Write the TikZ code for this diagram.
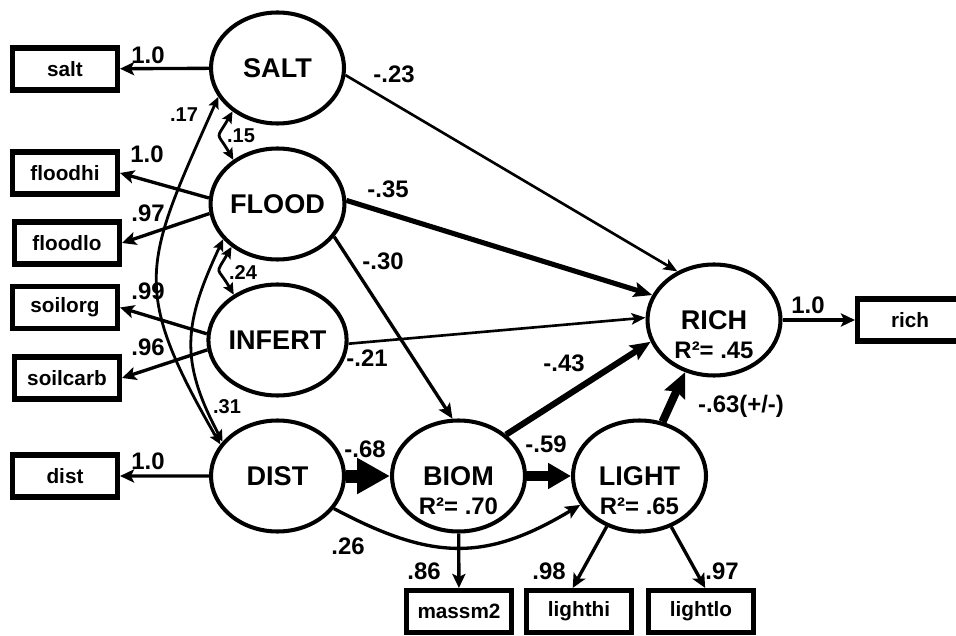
\documentclass[tikz,border=0pt]{standalone}
\usepackage{fontspec}
\setmainfont{Liberation Sans}
\usetikzlibrary{arrows.meta}
\usetikzlibrary{shapes.geometric}
\usetikzlibrary{positioning}

\begin{document}
\begin{tikzpicture}[auto, node distance=2.72cm]

		\tikzstyle{latent} = [ellipse, draw=black, line width=2.3pt, minimum width=2.66cm, minimum height=2.22cm, inner sep=0pt, font=\bfseries\fontsize{15.4}{16}\selectfont]
		\tikzstyle{manifest} = [rectangle, draw=black, line width=2.9pt, minimum width=2.1cm, minimum height=0.84cm, inner sep=0pt, font=\bfseries\fontsize{11.8}{12}\selectfont]
		\tikzstyle{rsq} = [inner sep=0pt, font=\bfseries\fontsize{13.6}{14}\selectfont]
		\tikzstyle{coef} = [inner sep=0pt, font=\bfseries\fontsize{13.6}{14}\selectfont]
		\tikzstyle{coef_small} = [inner sep=0pt, font=\bfseries\fontsize{11.4}{12}\selectfont]
		\tikzstyle{load} = [line width=1.9pt, -{Stealth[length=8pt, width=7.5pt, inset=1.8pt]}]
		\tikzstyle{edge} = [line width=1.5pt, -{Stealth[length=8pt, width=6.5pt, inset=1.8pt]}]
		\tikzstyle{edge_mid} = [line width=1.9pt, -{Stealth[length=8.5pt, width=7.5pt, inset=1.8pt]}]
		\tikzstyle{corr} = [line width=1.6pt, {Stealth[length=6.5pt, width=6pt, inset=1.2pt]}-{Stealth[length=6.5pt, width=6pt, inset=1.2pt]}]

		\useasboundingbox (0,0) rectangle (19.12,12.70);

		% latent variables
		\node[latent](SALT) at (5.55,11.34){SALT};
		\node[latent](FLOOD) [below of=SALT]{FLOOD};
		\node[latent](INFERT) [below of=FLOOD]{INFERT};
		\node[latent](DIST) [below of=INFERT]{DIST};
		\node[latent](BIOM) [right of=DIST, node distance=3.62cm]{BIOM};
		\node[latent](LIGHT) [right of=BIOM, node distance=3.62cm]{LIGHT};
		\node[latent](RICH) at (14.28,6.30){RICH};

		\node[rsq](BIOM_r) at ([yshift=-0.6cm]BIOM.center){R²= .70};
		\node[rsq](LIGHT_r) at ([yshift=-0.6cm]LIGHT.center){R²= .65};
		\node[rsq](RICH_r) at ([yshift=-0.6cm]RICH.center){R²= .45};

		% indicators
		\node[manifest](salt) at (1.30,11.32){salt};
		\node[manifest](floodhi) at (1.30,9.24){floodhi};
		\node[manifest](floodlo) at (1.34,7.84){floodlo};
		\node[manifest](soilorg) at (1.30,6.55){soilorg};
		\node[manifest](soilcarb) at (1.34,5.14){soilcarb};
		\node[manifest](dist) at (1.30,3.18){dist};
		\node[manifest](rich) at (18.20,6.30){rich};
		\node[manifest](massm2) at (9.18,0.47){massm2};
		\node[manifest](lighthi) at (11.58,0.47){lighthi};
		\node[manifest](lightlo) at (14.02,0.47){lightlo};

		% loadings
		\draw[load] (SALT) -- (salt);
		\draw[load] (FLOOD.175) -- (floodhi.east);
		\draw[load] (FLOOD.188) -- (floodlo.east);
		\draw[load] (INFERT.175) -- (soilorg.east);
		\draw[load] (INFERT.188) -- (soilcarb.east);
		\draw[load] (DIST) -- (dist);
		\draw[load] (RICH) -- (rich);
		\draw[load] (BIOM) -- (massm2);
		\draw[load] (LIGHT.237) -- (lighthi.105);
		\draw[load] (LIGHT.302) -- (lightlo.80);

		% paths
		\draw[edge] (SALT.-6) -- (RICH.127);
		\draw[edge] (INFERT.-3) -- (RICH.178);
		\draw[edge_mid] (FLOOD.-30) -- (BIOM.96);
		\draw[line width=2.9pt, -{Stealth[length=10.5pt, width=8.5pt, inset=2pt]}] (FLOOD.3) -- (RICH.158);
		\draw[line width=3.5pt, -{Stealth[length=11.5pt, width=9.5pt, inset=2pt]}] (BIOM.41) -- (RICH.199);
		\draw[line width=4.6pt, -{Stealth[length=14pt, width=12.5pt, inset=2pt]}] (LIGHT.67) -- (RICH.241);
		\draw[line width=7.4pt, -{Triangle[length=18.7pt, width=19.3pt]}] (DIST.east) -- (BIOM.west);
		\draw[line width=5.7pt, -{Triangle[length=13pt, width=14pt]}] (BIOM.east) -- (LIGHT.west);
		\draw[edge_mid] (DIST.-30) to[out=-28, in=211, looseness=1.15] (LIGHT.206);

		% correlations
		\draw[corr] (SALT.224) to[out=240, in=120, looseness=1.8] (FLOOD.135);
		\draw[corr] (FLOOD.223) to[out=240, in=120, looseness=1.8] (INFERT.134);
		\draw[corr] (SALT.206) to[out=246, in=120, looseness=1.34] (DIST.151);
		\draw[corr] (FLOOD.213) to[out=245, in=118, looseness=1.17] (DIST.148);

		% coefficients
		\node[coef](w_salt) at (2.96,11.60){1.0};
		\node[coef](w_saltrich) at (7.88,11.22){-.23};
		\node[coef_small](r_saltdist) at (3.68,10.40){.17};
		\node[coef_small](r_saltflood) at (4.82,9.98){.15};
		\node[coef](w_floodhi) at (2.94,9.62){1.0};
		\node[coef](w_floodlo) at (2.96,8.44){.97};
		\node[coef](w_floodrich) at (7.76,8.92){-.35};
		\node[coef](w_floodbiom) at (7.66,7.48){-.30};
		\node[coef_small](r_floodinfert) at (4.86,7.24){.24};
		\node[coef](w_soilorg) at (2.96,6.88){.99};
		\node[coef](w_infertrich) at (7.34,5.54){-.21};
		\node[coef](w_soilcarb) at (2.96,5.76){.96};
		\node[coef_small](r_flooddist) at (4.54,4.56){.31};
		\node[coef](w_dist) at (2.96,3.48){1.0};
		\node[coef](w_distbiom) at (7.30,3.72){-.68};
		\node[coef](w_distlight) at (6.96,1.78){.26};
		\node[coef](w_biomlight) at (10.92,3.82){-.59};
		\node[coef](w_biomrich) at (11.28,5.44){-.43};
		\node[coef](w_lightrich) at (14.82,4.58){-.63(+/-)};
		\node[coef](w_rich) at (16.16,6.60){1.0};
		\node[coef](w_massm2) at (8.48,1.28){.86};
		\node[coef](w_lighthi) at (10.98,1.28){.98};
		\node[coef](w_lightlo) at (14.44,1.28){.97};

  \end{tikzpicture}
\end{document}
